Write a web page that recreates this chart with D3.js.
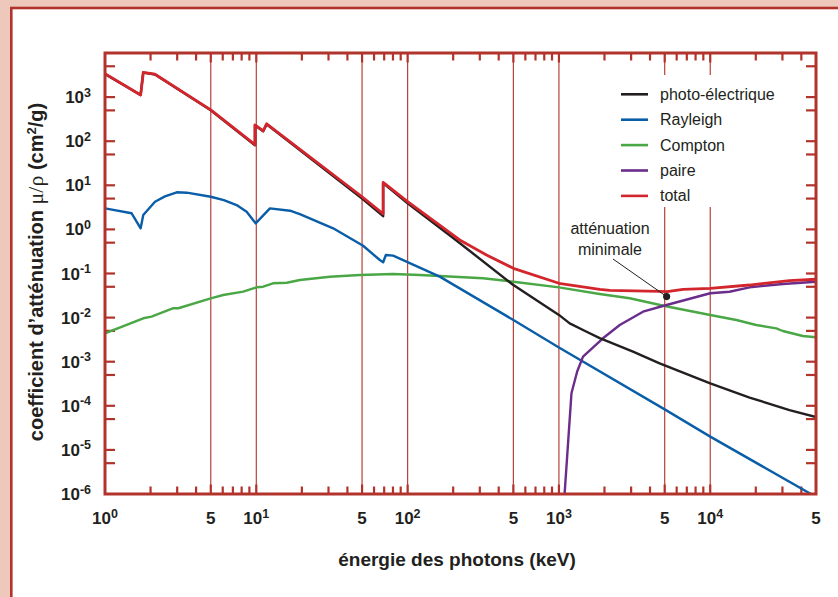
<!DOCTYPE html>
<html>
<head>
<meta charset="utf-8">
<script src="https://cdn.jsdelivr.net/npm/d3@7"></script>
<style>
  body { margin: 0; background: #edc8bb; }
  svg { display: block; }
</style>
</head>
<body>
<svg id="chart" width="838" height="597"></svg>
<script>
// values: [energy (keV), mu/rho (cm2/g)]
const photoElectric = [
  [1, 3340], [1.72, 1117], [1.79, 3600], [2.14, 3250], [5, 505], [9.8, 81], [9.8, 230],
  [11.1, 168], [11.7, 242], [50, 5.0], [68.9, 2.0], [68.9, 11.2], [100, 3.9], [200, 0.64],
  [500, 0.0546], [1000, 0.0115], [1178, 0.0074], [1500, 0.0049], [1860, 0.00343],
  [3087, 0.00169], [4630, 0.00092], [10000, 0.000323], [18200, 0.000154], [33400, 8.0e-5],
  [50000, 5.57e-5]
];
const rayleigh = [
  [1, 3.0], [1.5, 2.32], [1.72, 1.06], [1.79, 2.12], [2.14, 4.25], [2.49, 5.6], [2.98, 6.93],
  [3.47, 6.8], [5, 5.5], [6.1, 4.6], [7.41, 3.57], [8.63, 2.52], [9.9, 1.37], [12.3, 3.0],
  [16.7, 2.65], [19.4, 2.23], [32.2, 1.06], [50.8, 0.426], [65.5, 0.202], [68.9, 0.18],
  [71.8, 0.263], [80.2, 0.254], [163, 0.0848], [500, 0.00883], [1000, 0.0021],
  [5000, 8.3e-5], [10000, 2.0e-5], [46300, 1.0e-6], [50000, 8.5e-7]
];
const compton = [
  [1, 0.0044], [1.79, 0.00964], [2.03, 0.0105], [2.83, 0.0163], [3.05, 0.0163], [5, 0.0274],
  [6.04, 0.0325], [8.19, 0.0387], [10.05, 0.0486], [11.1, 0.0502], [12.9, 0.06], [15.9, 0.0618],
  [19.4, 0.0713], [30.6, 0.0846], [48.3, 0.0924], [80.2, 0.0975], [120, 0.0924], [163, 0.0877],
  [315, 0.0778], [500, 0.0652], [1000, 0.0486], [1860, 0.0343], [2935, 0.0274], [5000, 0.0183],
  [10000, 0.01146], [14900, 0.00883], [20100, 0.0068], [27300, 0.00571], [30200, 0.00497],
  [40900, 0.00383], [50000, 0.00357]
];
const paire = [
  [1090, 1e-6], [1210, 1.92e-4], [1320, 0.0006], [1443, 0.0013], [1955, 0.0034], [2523, 0.0068],
  [3594, 0.0136], [5000, 0.0188], [10000, 0.0356], [13400, 0.0386], [18200, 0.0486],
  [30200, 0.0578], [50000, 0.0652]
];
const total = [
  [1, 3400], [1.72, 1120], [1.79, 3650], [2.14, 3300], [5, 515], [9.8, 84], [9.8, 235],
  [11.1, 172], [11.7, 248], [50, 5.5], [68.9, 2.25], [68.9, 11.7], [100, 4.25], [190, 0.84],
  [221, 0.575], [332, 0.263], [500, 0.131], [1000, 0.06], [1860, 0.0438], [2170, 0.0414],
  [4630, 0.0392], [5200, 0.039], [6610, 0.0438], [10000, 0.0461], [18200, 0.0548],
  [33400, 0.0687], [50000, 0.074]
];
const minimum = [5150, 0.030];

const legendNames = ["photo-électrique", "Rayleigh", "Compton", "paire", "total"];
const xLabels = [[1, "10", "0"], [5, "5"], [10, "10", "1"], [50, "5"], [100, "10", "2"],
  [500, "5"], [1000, "10", "3"], [5000, "5"], [10000, "10", "4"], [50000, "5"]];
const yExponents = [3, 2, 1, 0, -1, -2, -3, -4, -5, -6];
const gridEnergies = [5, 10, 50, 100, 500, 1000, 5000, 10000];

const frameRed = "#b2332b";
const ink = "#231f20";
const series = [
  { name: "Compton", data: compton, color: "#4aa745", w: 2.4 },
  { name: "Rayleigh", data: rayleigh, color: "#0a5ea8", w: 2.4 },
  { name: "paire", data: paire, color: "#6a2d8c", w: 2.4 },
  { name: "photo-électrique", data: photoElectric, color: ink, w: 2.4 },
  { name: "total", data: total, color: "#d3252c", w: 2.8 }
];

const svg = d3.select("#chart");
const margin = { left: 105, top: 53, right: 816, bottom: 494 };

const x = d3.scaleLog().domain([1, 50000]).range([margin.left, margin.right]);
const y = d3.scaleLog().domain([1e-6, 1e4]).range([margin.bottom, margin.top]);

// page panel
svg.append("rect").attr("width", 838).attr("height", 597).attr("fill", "#edc8bb");
svg.append("rect").attr("x", 11.3).attr("y", 8).attr("width", 840).attr("height", 600)
  .attr("fill", "#fff").attr("stroke", frameRed).attr("stroke-width", 2.6);

svg.append("clipPath").attr("id", "plot").append("rect")
  .attr("x", margin.left).attr("y", margin.top)
  .attr("width", margin.right - margin.left).attr("height", margin.bottom - margin.top);

// vertical grid lines
svg.append("g").selectAll("line").data(gridEnergies).join("line")
  .attr("x1", d => x(d)).attr("x2", d => x(d))
  .attr("y1", margin.top).attr("y2", margin.bottom)
  .attr("stroke", "#b8413a").attr("stroke-width", 1.2);

// legend box hides the grid
svg.append("rect").attr("x", 604).attr("y", 75).attr("width", 200).attr("height", 132).attr("fill", "#fff");

// ticks
const decadeTicks = [];
for (let d = 0; d <= 4; d++) for (let k = 1; k <= 9; k++) {
  const v = k * Math.pow(10, d);
  if (v > 1 && v < 50000) decadeTicks.push({ v, long: k === 1 || k === 5 });
}
const tickG = svg.append("g").attr("stroke", frameRed).attr("stroke-width", 2.2);
tickG.selectAll(".tb").data(decadeTicks).join("line").attr("class", "tb")
  .attr("x1", d => x(d.v)).attr("x2", d => x(d.v))
  .attr("y1", margin.bottom).attr("y2", d => margin.bottom - (d.long ? 9.5 : 7.5));
tickG.selectAll(".tt").data(decadeTicks).join("line").attr("class", "tt")
  .attr("x1", d => x(d.v)).attr("x2", d => x(d.v))
  .attr("y1", margin.top).attr("y2", d => margin.top + (d.long ? 9.5 : 7.5));

const yTicks = [];
yExponents.forEach(e => {
  if (e > -6) yTicks.push(Math.pow(10, e));
  yTicks.push(5 * Math.pow(10, e));
});
tickG.selectAll(".tl").data(yTicks).join("line").attr("class", "tl")
  .attr("x1", margin.left).attr("x2", margin.left + 10)
  .attr("y1", d => y(d)).attr("y2", d => y(d));
tickG.selectAll(".tr").data(yTicks).join("line").attr("class", "tr")
  .attr("x1", margin.right).attr("x2", margin.right - 10)
  .attr("y1", d => y(d)).attr("y2", d => y(d));

// curves
const line = d3.line().x(d => x(d[0])).y(d => y(d[1]));
svg.append("g").attr("clip-path", "url(#plot)")
  .selectAll("path").data(series).join("path")
  .attr("d", d => line(d.data))
  .attr("fill", "none").attr("stroke", d => d.color).attr("stroke-width", d => d.w)
  .attr("stroke-linejoin", "round");

// frame
svg.append("rect").attr("x", margin.left).attr("y", margin.top)
  .attr("width", margin.right - margin.left).attr("height", margin.bottom - margin.top)
  .attr("fill", "none").attr("stroke", frameRed).attr("stroke-width", 3);

const font = "'Liberation Sans', Arial, sans-serif";

// x tick labels
const xl = svg.append("g").attr("font-family", font).attr("font-weight", "bold")
  .attr("font-size", 17).attr("fill", ink);
xLabels.forEach(([v, base, exp]) => {
  const t = xl.append("text").attr("x", x(v)).attr("y", 524).attr("text-anchor", "middle");
  t.append("tspan").text(base);
  if (exp !== undefined) t.append("tspan").attr("dy", -6.5).attr("font-size", 12.5).text(exp);
});

// y tick labels
const yl = svg.append("g").attr("font-family", font).attr("font-weight", "bold")
  .attr("font-size", 17).attr("fill", ink);
yExponents.forEach(e => {
  const t = yl.append("text").attr("x", 91).attr("y", y(Math.pow(10, e)) + 6).attr("text-anchor", "end");
  t.append("tspan").text("10");
  t.append("tspan").attr("dy", -6.5).attr("font-size", 12.5).text(e < 0 ? "-" + (-e) : String(e));
});

// axis titles
svg.append("text").attr("x", 457).attr("y", 566).attr("text-anchor", "middle")
  .attr("font-family", font).attr("font-weight", "bold").attr("font-size", 19).attr("fill", ink)
  .text("énergie des photons (keV)");

const yt = svg.append("text").attr("transform", "translate(43,272) rotate(-90)")
  .attr("text-anchor", "middle").attr("font-family", font).attr("font-weight", "bold")
  .attr("font-size", 20).attr("fill", ink);
yt.append("tspan").text("coefficient d’atténuation ");
yt.append("tspan").attr("font-family", "'Liberation Serif', 'DejaVu Serif', serif")
  .attr("font-weight", "normal").attr("font-size", 22).text("μ/ρ");
yt.append("tspan").text("  (cm");
yt.append("tspan").attr("dy", -7).attr("font-size", 13).text("2");
yt.append("tspan").attr("dy", 7).text("/g)");

// legend
const legendItems = legendNames.map(n => series.find(s => s.name === n));
const lg = svg.append("g").selectAll("g").data(legendItems).join("g")
  .attr("transform", (d, i) => `translate(621,${94.3 + i * 25.4})`);
lg.append("line").attr("x1", 0).attr("x2", 27).attr("stroke", d => d.color).attr("stroke-width", 2.6);
lg.append("text").attr("x", 39).attr("y", 5.5).attr("font-family", font).attr("font-size", 16)
  .attr("fill", ink).text(d => d.name);

// annotation
const ann = svg.append("g").attr("font-family", font).attr("font-size", 16).attr("fill", ink)
  .attr("text-anchor", "middle");
ann.append("text").attr("x", 610).attr("y", 234).text("atténuation");
ann.append("text").attr("x", 610).attr("y", 255).text("minimale");
svg.append("line").attr("x1", 613).attr("y1", 259)
  .attr("x2", x(minimum[0])).attr("y2", y(minimum[1]))
  .attr("stroke", ink).attr("stroke-width", 1);
svg.append("circle").attr("cx", x(minimum[0])).attr("cy", y(minimum[1])).attr("r", 3.6).attr("fill", ink);
</script>
</body>
</html>
